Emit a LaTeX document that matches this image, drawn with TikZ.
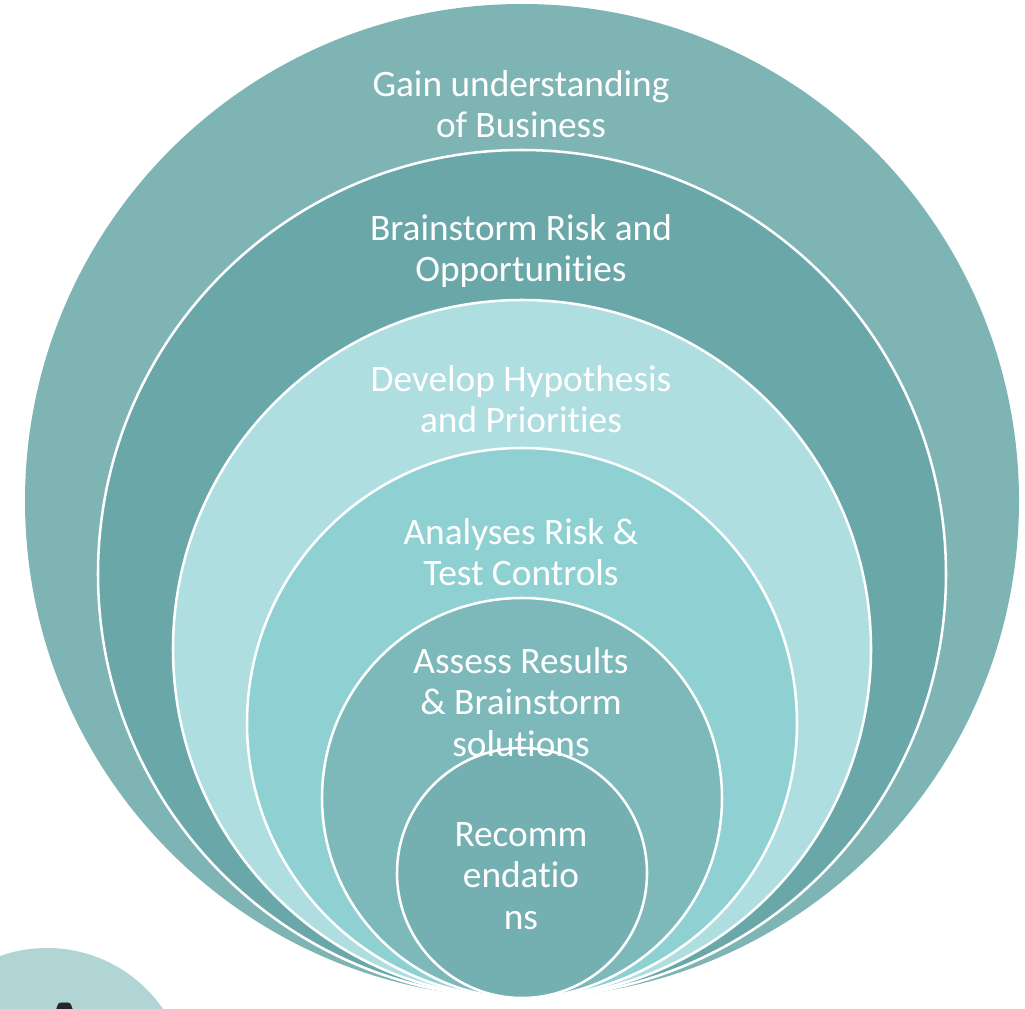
\documentclass[tikz,border=0pt]{standalone}
\usepackage{fontspec}
\setmainfont{Carlito}[Ligatures=NoCommon]
\definecolor{cA}{HTML}{7FB4B5}
\definecolor{cB}{HTML}{69A7A9}
\definecolor{cC}{HTML}{AFDEE1}
\definecolor{cD}{HTML}{8FD1D3}
\definecolor{cE}{HTML}{7DB9BA}
\definecolor{cF}{HTML}{74B0B1}
\definecolor{cG}{HTML}{B1D4D5}
\tikzset{
  ring/.style={draw=white, line width=1.9pt},
  lbl/.style={text=white, align=center, font=\fontsize{28}{30.9}\selectfont, inner sep=0pt}
}
\begin{document}
\begin{tikzpicture}[x=0.75pt,y=-0.75pt]
\useasboundingbox (0,0) rectangle (1025,1009);
\clip (0,0) rectangle (1025,1009);
% bottom-left partial circle
\fill[cG] (47,1089) circle (141);
\node[font=\fontsize{48}{50}\selectfont\bfseries\sffamily, text=black!85] (letA) at (65,1025) {A};
% nested circles, all tangent at bottom
\fill[cA] (522,501) circle (497);
\filldraw[ring, fill=cB] (522,574) circle (424);
\filldraw[ring, fill=cC] (522,649) circle (349);
\filldraw[ring, fill=cD] (522,723) circle (275);
\filldraw[ring, fill=cE] (522,798) circle (200);
\filldraw[ring, fill=cF] (522,873) circle (125);
% labels
\node[lbl] (t1) at (521,104) {Gain understanding\\of Business};
\node[lbl] (t2) at (521,251) {Brainstorm Risk and\\Opportunities};
\node[lbl] (t3) at (521,399) {Develop Hypothesis\\and Priorities};
\node[lbl] (t4) at (521,552) {Analyses Risk \&\\Test Controls};
\node[lbl] (t5) at (521,702) {Assess Results\\\& Brainstorm\\solutions};
\node[lbl] (t6) at (521,876) {Recomm\\endatio\\ns};
\end{tikzpicture}
\end{document}
